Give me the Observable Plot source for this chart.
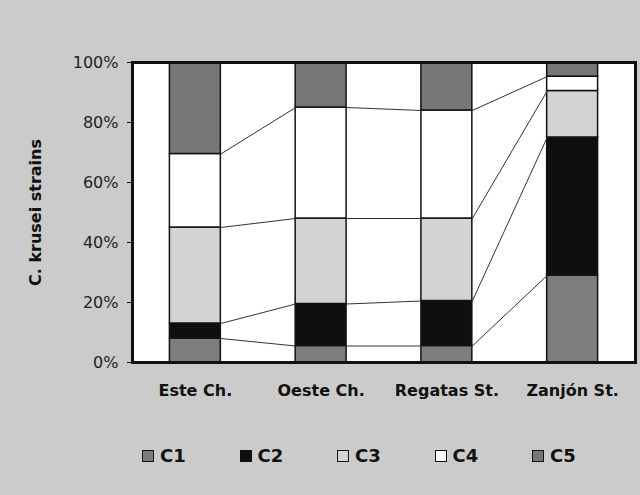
<!DOCTYPE html>
<html>
<head>
<meta charset="utf-8">
<script src="https://cdn.jsdelivr.net/npm/d3@7"></script>
<script src="https://cdn.jsdelivr.net/npm/@observablehq/plot@0.6"></script>
<style>
  html, body { margin: 0; padding: 0; background: #cbcbcb; }
  body { width: 640px; height: 495px; overflow: hidden; font-family: "DejaVu Sans", sans-serif; }
  #legend { position: relative; height: 85px; }
  .item { position: absolute; top: 35px; display: flex; align-items: center; font-weight: bold; font-size: 18px; color: #111; }
  .sw { width: 10px; height: 10px; border: 1.5px solid #111; margin-right: 6px; }
</style>
</head>
<body>
<div id="chart"></div>
<div id="legend"></div>
<script>
// Data (percent of C. krusei strains per site)
const sites = ["Este Ch.", "Oeste Ch.", "Regatas St.", "Zanjón St."];
const seriesNames = ["C1", "C2", "C3", "C4", "C5"];
const c1 = [8, 5.5, 5.5, 29];
const c2 = [5, 14, 15, 46];
const c3 = [32, 28.5, 27.5, 15.5];
const c4 = [24.5, 37, 36, 4.8];
const c5 = [30.5, 15, 16, 4.7];
const yTicks = [0, 20, 40, 60, 80, 100];
const colors = ["#7d7d7d", "#0f0f0f", "#d3d3d3", "#ffffff", "#777777"];

const seriesValues = [c1, c2, c3, c4, c5];
const rows = [];
sites.forEach((s, i) => seriesNames.forEach((n, k) => rows.push({site: s, i, series: n, value: seriesValues[k][i]})));

// cumulative boundaries for series connector lines
const links = [];
for (let k = 0; k < seriesNames.length - 1; k++) {
  for (let i = 0; i < sites.length - 1; i++) {
    const cumA = seriesValues.slice(0, k + 1).reduce((a, v) => a + v[i], 0);
    const cumB = seriesValues.slice(0, k + 1).reduce((a, v) => a + v[i + 1], 0);
    links.push({i, a: cumA, b: cumB});
  }
}

const hw = 0.2025; // half bar width in category units

const chart = Plot.plot({
  width: 640,
  height: 410,
  marginLeft: 132,
  marginRight: 5,
  marginTop: 62,
  marginBottom: 48,
  style: {background: "transparent", fontFamily: "DejaVu Sans, sans-serif", color: "#111"},
  x: {domain: [-0.5, sites.length - 0.5]},
  y: {domain: [0, 100]},
  color: {domain: seriesNames, range: colors},
  marks: [
    Plot.frame({fill: "white", stroke: null}),
    Plot.rectY(rows, {x1: d => d.i - hw, x2: d => d.i + hw, y: "value", fill: "series", stroke: "#111", strokeWidth: 1.5}),
    Plot.link(links, {x1: d => d.i + hw, y1: "a", x2: d => d.i + 1 - hw, y2: "b", stroke: "#333", strokeWidth: 1}),
    Plot.frame({stroke: "#111", strokeWidth: 3}),
    Plot.axisX({ticks: d3.range(sites.length), tickFormat: i => sites[i], tickSize: 0, tickPadding: 22, fontSize: 16, fontWeight: "bold", label: null}),
    Plot.axisY({ticks: yTicks, tickFormat: d => d + "%", tickSize: 5, tickPadding: 9, fontSize: 16, fill: "#222", label: null}),
    Plot.text(["C. krusei strains"], {frameAnchor: "left", textAnchor: "middle", rotate: -90, dx: -97, fontSize: 16, fontWeight: "bold", fill: "#111"})
  ]
});
document.getElementById("chart").appendChild(chart);

const legend = document.getElementById("legend");
seriesNames.forEach((n, k) => {
  const it = document.createElement("div");
  it.className = "item";
  it.style.left = (142 + k * 97.5) + "px";
  const sw = document.createElement("div");
  sw.className = "sw";
  sw.style.background = colors[k];
  it.appendChild(sw);
  it.appendChild(document.createTextNode(n));
  legend.appendChild(it);
});
</script>
</body>
</html>
